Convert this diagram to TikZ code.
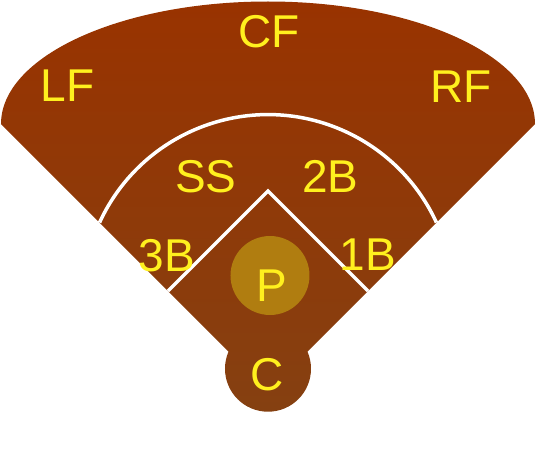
\documentclass[tikz,border=0pt]{standalone}
\usepackage{fontspec}
\setmainfont{Liberation Sans}
\definecolor{fieldtop}{RGB}{153,51,0}
\definecolor{fieldbottom}{RGB}{133,64,17}
\definecolor{mound}{RGB}{176,125,16}
\definecolor{playertext}{RGB}{255,240,30}
\begin{document}
\begin{tikzpicture}[x=1pt,y=1pt,
    player/.style={text=playertext,inner sep=0pt,font=\fontsize{46}{50}\selectfont},
    chalk/.style={draw=white,line width=3.5pt}]
  \useasboundingbox (-268,-57) rectangle (268,391);
  \coordinate (home) at (0,0);
  \coordinate (first) at (100,100);
  \coordinate (second) at (0,200);
  \coordinate (third) at (-100,100);
  \coordinate (arcctr) at (0,91);
  \shade[top color=fieldtop,bottom color=fieldbottom]
    (home) -- (267,267) arc[start angle=0,end angle=180,x radius=267,y radius=122.5] -- cycle
    (0,22.3) circle[radius=43];
  \fill[mound] (2,115.5) circle[radius=39.5];
  \draw[chalk] (arcctr) ++(155.3:185.4) arc[start angle=155.3,end angle=24.7,radius=185.4];
  \draw[chalk] (third) -- (second) -- (first);
  \draw
    (1,359.4) node[player] (cf){CF}
    (-200.5,305.5) node[player] (lf){LF}
    (193,304) node[player] (rf){RF}
    (-62,214) node[player] (ss){SS}
    (62.5,214.5) node[player] (2b){2B}
    (-101.3,135.5) node[player] (3b){3B}
    (99.7,136) node[player] (1b){1B}
    (4,105.5) node[player] (p){P}
    (-0.5,16) node[player] (c){C};
\end{tikzpicture}
\end{document}
